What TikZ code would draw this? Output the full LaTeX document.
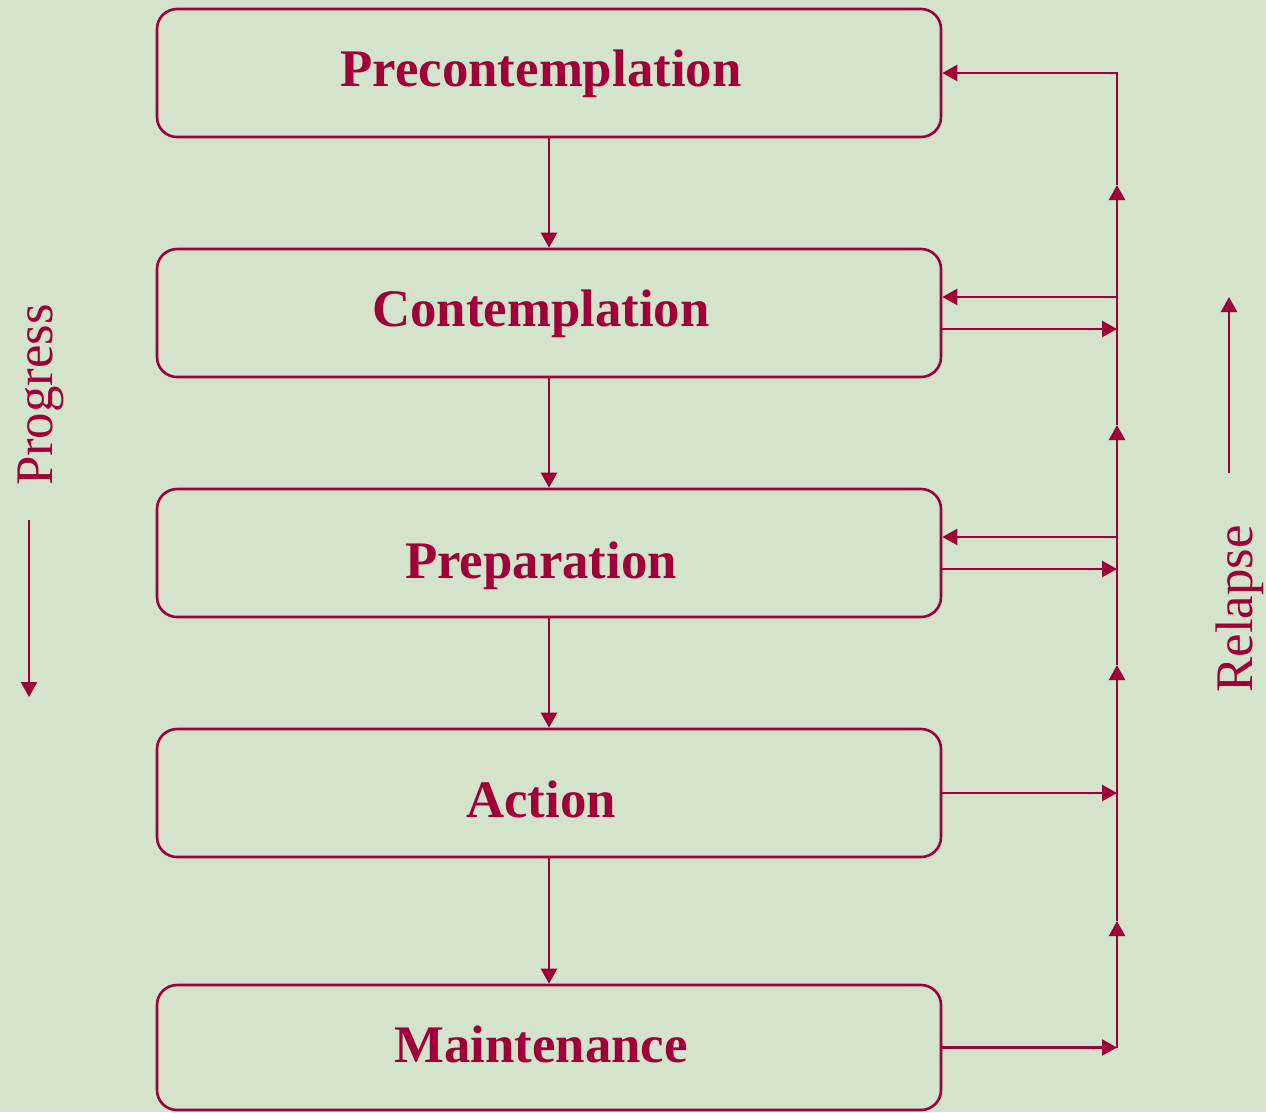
\documentclass[tikz,border=0pt]{standalone}
\usepackage{fontspec}
\setmainfont{Liberation Serif}
\usetikzlibrary{arrows.meta}
\definecolor{wine}{RGB}{160,0,56}
\definecolor{sage}{RGB}{212,227,203}
\begin{document}
\begin{tikzpicture}[x=1pt,y=-1pt,
  stage/.style={draw=wine, line width=2.6pt, rounded corners=20pt,
    minimum width=784pt, minimum height=128pt, inner sep=0pt,
    text height=36pt, text depth=10pt,
    font=\fontsize{52.8}{60}\selectfont\bfseries, text=wine},
  flow/.style={draw=wine, line width=2.4pt, -{Triangle[length=15pt,width=16pt]}},
  side/.style={font=\fontsize{52.8}{60}\selectfont, text=wine, rotate=90, anchor=base, inner sep=0pt}]
  % canvas
  \fill[sage] (0,0) rectangle (1266,1112);
  \useasboundingbox (0,0) rectangle (1266,1112);

  % the five stages
  \node[stage] (s1) at (549,73) {Precontemplation\hspace*{16pt}};
  \node[stage] (s2) at (549,313) {Contemplation\hspace*{16pt}};
  \node[stage] (s3) at (549,553) {\raisebox{-12pt}{Preparation}\hspace*{16pt}};
  \node[stage] (s4) at (549,793) {\raisebox{-11pt}{Action}\hspace*{16pt}};
  \node[stage, minimum height=125pt] (s5) at (549,1047.5) {\raisebox{-1.5pt}{Maintenance}\hspace*{16pt}};

  % forward progression
  \draw[flow] (s1.south) -- (s2.north);
  \draw[flow] (s2.south) -- (s3.north);
  \draw[flow] (s3.south) -- (s4.north);
  \draw[flow] (s4.south) -- (s5.north);

  % relapse rail on the right
  \coordinate (r0) at (1117,73);
  \coordinate (r1) at (1117,185);
  \coordinate (r2) at (1117,425);
  \coordinate (r3) at (1117,665);
  \coordinate (r4) at (1117,921);
  \coordinate (r5) at (1117,1047.5);

  \draw[flow] (s5.east) -- (r5);
  \draw[flow] (r5) -- (r4);
  \draw[flow] (r4) -- (r3);
  \draw[flow] (r3) -- (r2);
  \draw[flow] (r2) -- (r1);
  \draw[flow] (r1) -- (r0) -- (s1.east);

  \draw[flow] (s4.east) -- (s4.east -| r0);
  \draw[flow] ([yshift=-16pt]s3.east) -- ([yshift=-16pt]s3.east -| r0);
  \draw[flow] ([yshift=16pt]s3.east -| r0) -- ([yshift=16pt]s3.east);
  \draw[flow] ([yshift=-16pt]s2.east) -- ([yshift=-16pt]s2.east -| r0);
  \draw[flow] ([yshift=16pt]s2.east -| r0) -- ([yshift=16pt]s2.east);

  % side labels
  \node[side] (prog) at (52,395) {Progress};
  \coordinate (pa) at (29,520);
  \coordinate (pb) at (29,697);
  \draw[flow] (pa) -- (pb);

  \node[side] (rel) at (1252,609) {Relapse};
  \coordinate (ra) at (1229,473);
  \coordinate (rb) at (1229,297);
  \draw[flow] (ra) -- (rb);
\end{tikzpicture}
\end{document}
